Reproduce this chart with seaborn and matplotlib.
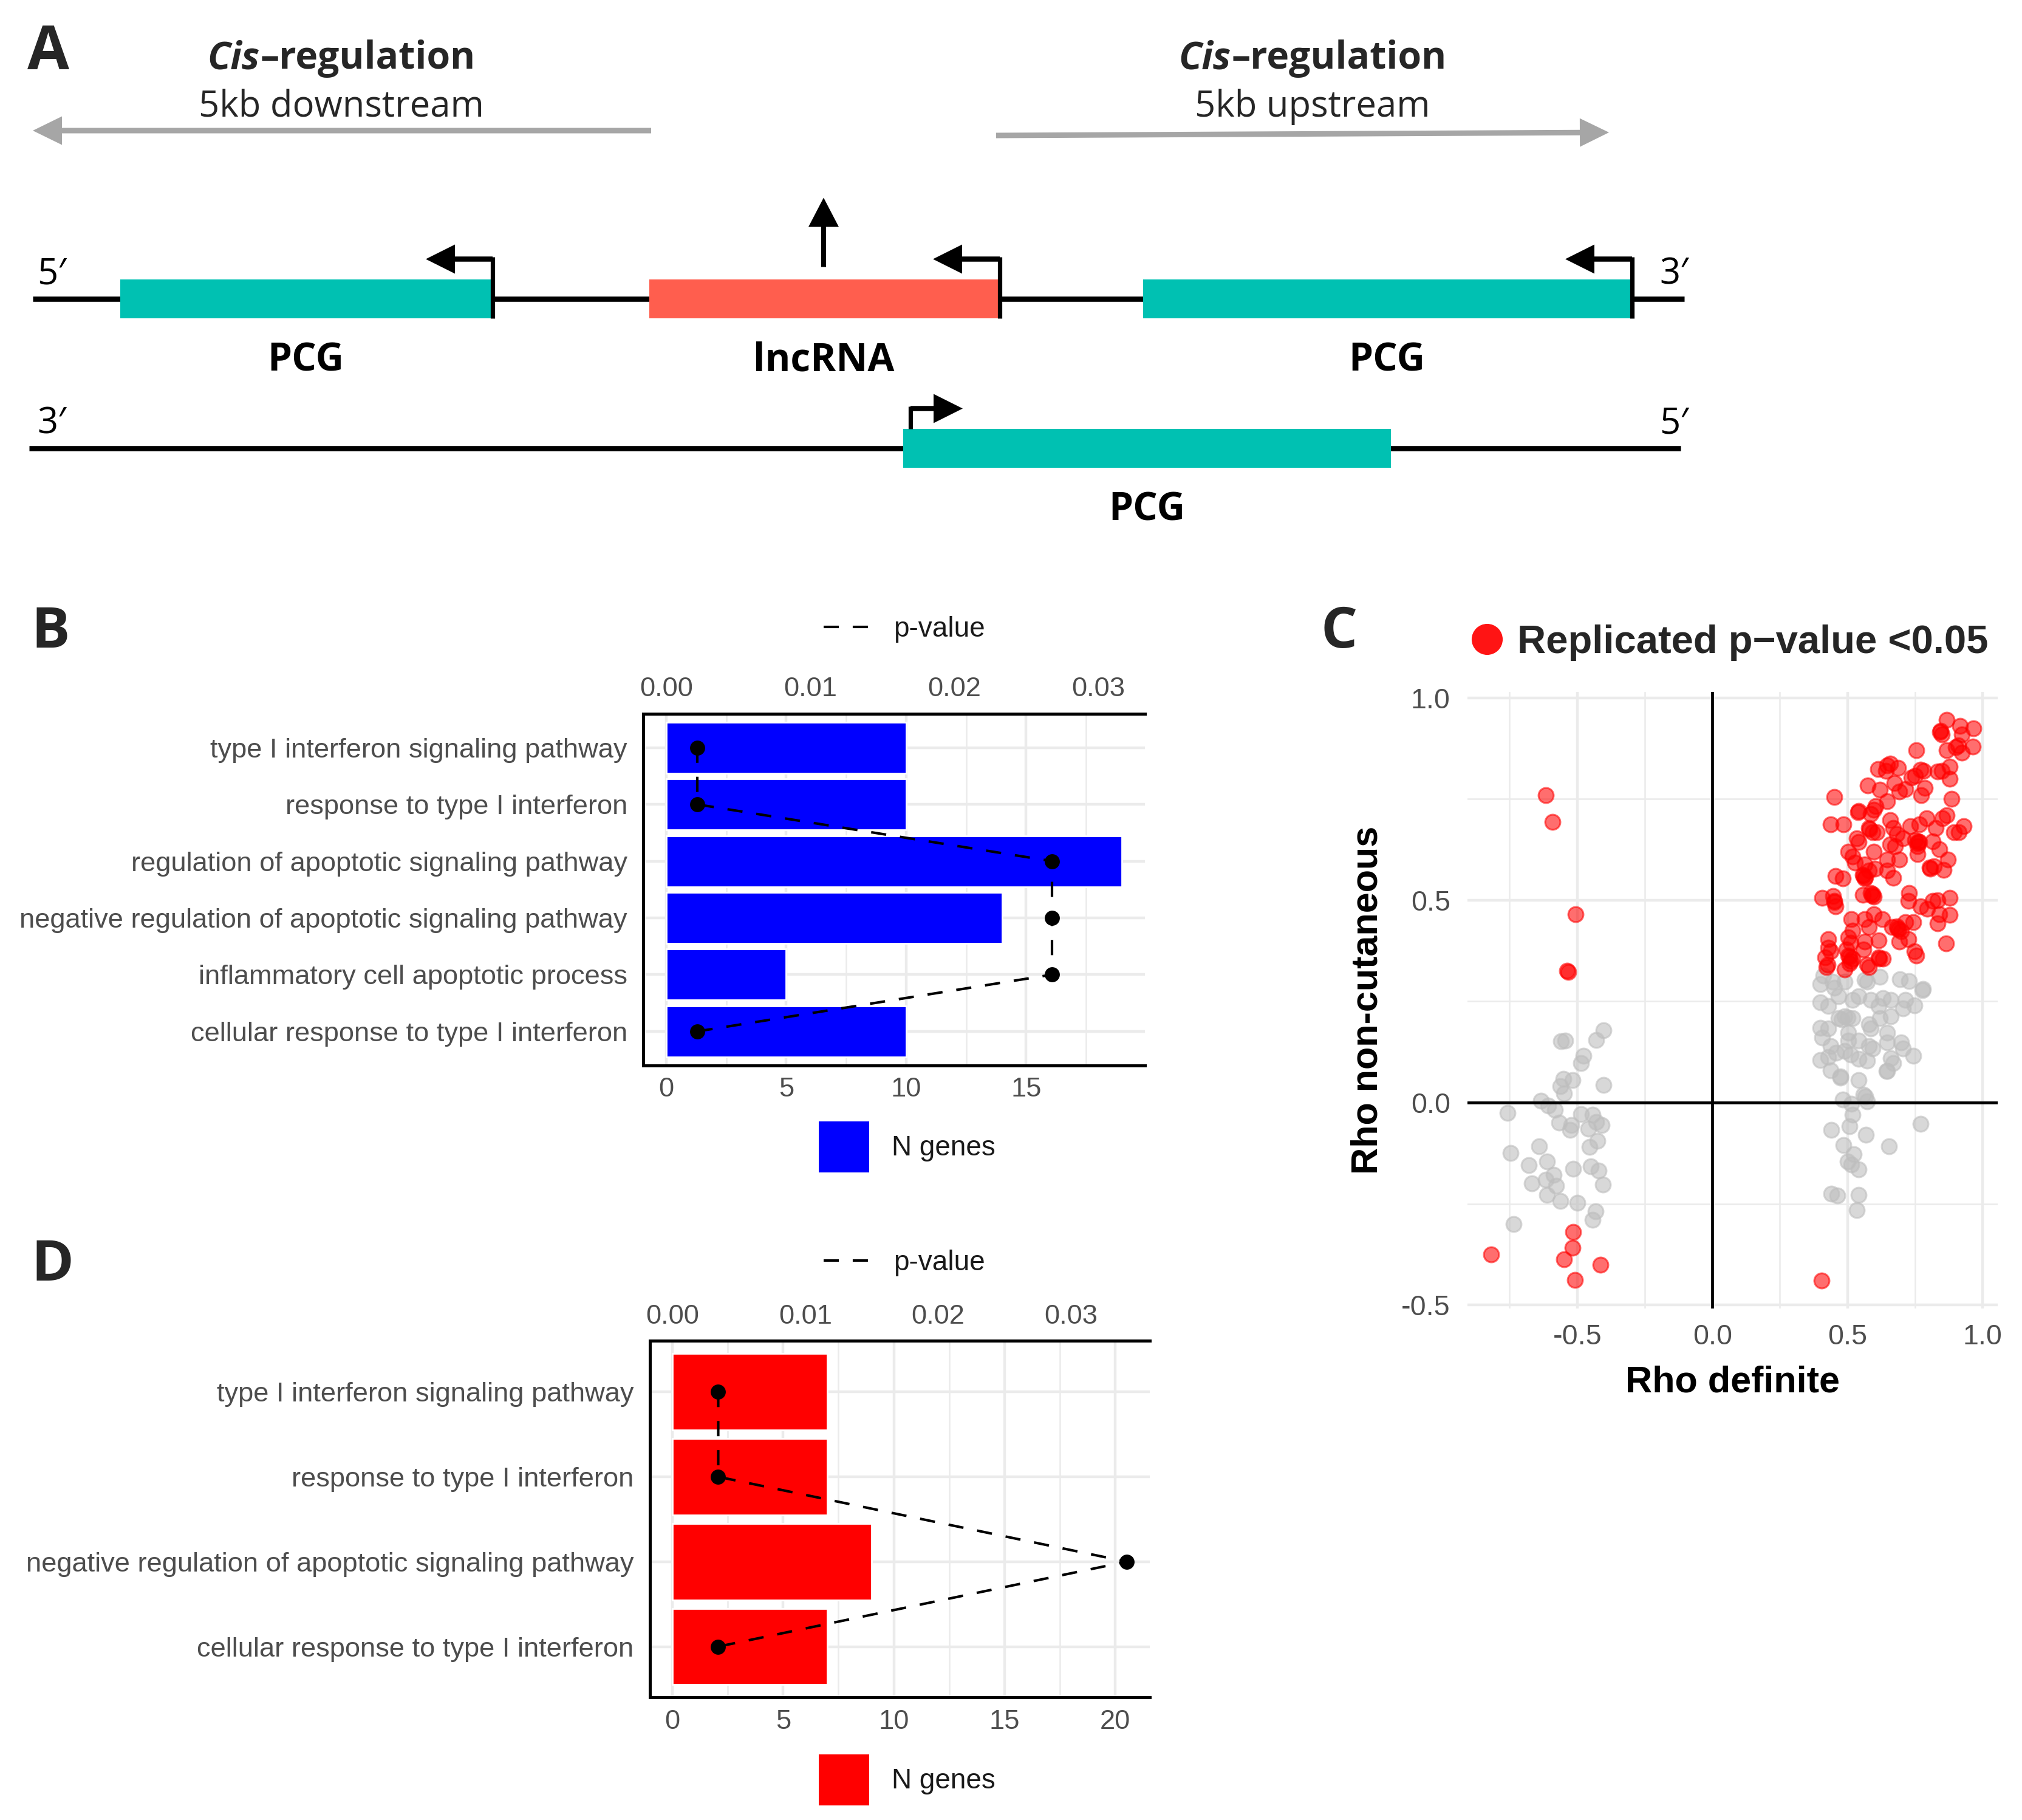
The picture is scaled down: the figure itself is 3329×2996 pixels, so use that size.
import numpy as np
import pandas as pd
import matplotlib
matplotlib.use("Agg")
import matplotlib.pyplot as plt
from matplotlib.lines import Line2D
from matplotlib.patches import Patch, Rectangle
from matplotlib.ticker import MultipleLocator, FormatStrFormatter
import seaborn as sns

# ------------------------------------------------------------------ data
b_terms = ["type I interferon signaling pathway",
           "response to type I interferon",
           "regulation of apoptotic signaling pathway",
           "negative regulation of apoptotic signaling pathway",
           "inflammatory cell apoptotic process",
           "cellular response to type I interferon"]
b_ngenes = [10, 10, 19, 14, 5, 10]
b_pvalue = [0.00216, 0.00216, 0.0268, 0.0268, 0.0268, 0.00216]

d_terms = ["type I interferon signaling pathway",
           "response to type I interferon",
           "negative regulation of apoptotic signaling pathway",
           "cellular response to type I interferon"]
d_ngenes = [7, 7, 9, 7]
d_pvalue = [0.00345, 0.00345, 0.0342, 0.00345]

P_SCALE = 600  # secondary (p-value) axis: p = N / 600

# panel C: replicated (red) points
red_x = [0.868, 0.845, 0.850, 0.916, 0.967, 0.924, 0.755, 0.868, 0.909, 0.924, 0.963, 0.901,
         0.613, 0.646, 0.658, 0.688, 0.643, 0.770, 0.781, 0.834, 0.849, 0.879, 0.879, 0.736,
         0.751, 0.673, 0.691, 0.714, 0.575, 0.620, 0.787, 0.774, 0.886, 0.452, 0.646, 0.605,
         0.542, 0.587, 0.598, 0.437, 0.485, 0.658, 0.579, 0.594, 0.609, 0.534, 0.542, 0.669,
         0.684, 0.706, 0.733, 0.766, 0.793, 0.852, 0.868, 0.826, 0.894, 0.912, 0.931, 0.658,
         0.676, 0.751, 0.766, 0.759, 0.598, 0.504, 0.519, 0.527, 0.646, 0.691, 0.759, 0.815,
         0.841, 0.871, 0.804, 0.819, 0.856, 0.564, 0.579, 0.601, 0.557, 0.564, 0.646, 0.669,
         0.455, 0.482,
         0.407, 0.448, 0.455, 0.452, 0.557, 0.587, 0.598, 0.729, 0.725, 0.770, 0.796, 0.815,
         0.834, 0.879, 0.841, 0.879, 0.834, 0.515, 0.564, 0.598, 0.628, 0.579, 0.519, 0.665,
         0.684, 0.699, 0.714, 0.744, 0.725, 0.691, 0.864, 0.748, 0.755, 0.429, 0.429, 0.437,
         0.418, 0.426, 0.422, 0.504, 0.512, 0.497, 0.504, 0.519, 0.508, 0.564, 0.560, 0.616,
         0.616, 0.631, 0.572, 0.579, 0.489,
         0.843, 0.540, 0.581, 0.760, 0.762, 0.806, 0.560, 0.566, 0.590, 0.594, 0.685, 0.690,
         0.507, 0.512, 0.618, 0.452,
         0.405,
         -0.616, -0.591, -0.506, -0.538, -0.534, -0.515, -0.518, -0.548, -0.818, -0.414, -0.509]
red_y = [0.945, 0.918, 0.910, 0.930, 0.925, 0.910, 0.870, 0.870, 0.883, 0.865, 0.879, 0.878,
         0.824, 0.833, 0.838, 0.827, 0.820, 0.823, 0.820, 0.818, 0.820, 0.830, 0.800, 0.803,
         0.808, 0.790, 0.768, 0.775, 0.783, 0.773, 0.778, 0.760, 0.750, 0.755, 0.745, 0.733,
         0.720, 0.713, 0.723, 0.688, 0.688, 0.698, 0.678, 0.668, 0.668, 0.653, 0.643, 0.678,
         0.663, 0.653, 0.683, 0.688, 0.703, 0.703, 0.710, 0.678, 0.668, 0.668, 0.683, 0.638,
         0.633, 0.648, 0.643, 0.633, 0.620, 0.620, 0.608, 0.593, 0.600, 0.600, 0.613, 0.645,
         0.625, 0.600, 0.580, 0.583, 0.575, 0.588, 0.573, 0.578, 0.563, 0.553, 0.573, 0.555,
         0.560, 0.553,
         0.505, 0.510, 0.485, 0.495, 0.513, 0.518, 0.508, 0.518, 0.498, 0.485, 0.478, 0.498,
         0.500, 0.505, 0.465, 0.463, 0.443, 0.453, 0.453, 0.465, 0.453, 0.433, 0.425, 0.433,
         0.435, 0.423, 0.445, 0.445, 0.403, 0.398, 0.393, 0.373, 0.363, 0.403, 0.383, 0.373,
         0.358, 0.340, 0.335, 0.408, 0.395, 0.378, 0.363, 0.355, 0.343, 0.398, 0.378, 0.400,
         0.358, 0.355, 0.340, 0.335, 0.328,
         0.915, 0.718, 0.676, 0.640, 0.645, 0.578, 0.560, 0.556, 0.512, 0.515, 0.430, 0.428,
         0.360, 0.350, 0.355, 0.498,
         -0.439,
         0.760, 0.693, 0.465, 0.325, 0.322, -0.320, -0.358, -0.387, -0.375, -0.401, -0.438]

# panel C: non-replicated (grey) points
gray_x = [0.411, 0.399, 0.444, 0.489, 0.564, 0.572, 0.620, 0.695, 0.729, 0.778, 0.399, 0.429,
          0.452, 0.467, 0.519, 0.542, 0.587, 0.631, 0.661, 0.706, 0.714, 0.748, 0.616, 0.467,
          0.489, 0.519, 0.579, 0.587, 0.620, 0.661, 0.399, 0.429, 0.407, 0.504, 0.504, 0.542,
          0.646, 0.646, 0.699, 0.706, 0.744, 0.437, 0.579, 0.594, 0.399, 0.429, 0.459, 0.489,
          0.512, 0.542, 0.572, 0.661, 0.669, 0.646, 0.437, 0.474, 0.542,
          0.478, 0.500, 0.780, 0.645, 0.474,
          0.482, 0.515, 0.560, 0.572, 0.566, 0.519, 0.508, 0.440, 0.568, 0.770, 0.485, 0.654,
          0.523, 0.500, 0.515, 0.542, 0.440, 0.463, 0.542, 0.534,
          -0.545, -0.560, -0.402, -0.429, -0.477, -0.485, -0.552, -0.518, -0.563, -0.548,
          -0.402, -0.634, -0.608, -0.582, -0.758, -0.485, -0.444, -0.567, -0.522, -0.526,
          -0.459, -0.429, -0.410, -0.425, -0.455, -0.642, -0.747, -0.679, -0.612, -0.586,
          -0.616, -0.578, -0.668, -0.515, -0.451, -0.421, -0.404, -0.612, -0.563, -0.500,
          -0.432, -0.443, -0.736]
gray_y = [0.313, 0.293, 0.298, 0.298, 0.303, 0.298, 0.310, 0.305, 0.300, 0.278, 0.248, 0.238,
          0.283, 0.263, 0.253, 0.263, 0.253, 0.258, 0.253, 0.233, 0.253, 0.240, 0.238, 0.208,
          0.213, 0.208, 0.193, 0.183, 0.208, 0.213, 0.185, 0.183, 0.160, 0.173, 0.153, 0.153,
          0.173, 0.148, 0.148, 0.133, 0.115, 0.140, 0.140, 0.133, 0.105, 0.113, 0.123, 0.128,
          0.118, 0.108, 0.103, 0.110, 0.098, 0.078, 0.080, 0.065, 0.055,
          0.205, 0.210, 0.280, 0.078, 0.062,
          0.008, -0.003, 0.020, 0.003, 0.015, -0.030, -0.058, -0.068, -0.080, -0.052, -0.105,
          -0.108, -0.128, -0.145, -0.153, -0.165, -0.225, -0.230, -0.228, -0.265,
          0.153, 0.152, 0.178, 0.155, 0.115, 0.098, 0.058, 0.055, 0.040, 0.023,
          0.044, 0.005, -0.008, -0.018, -0.025, -0.028, -0.030, -0.050, -0.055, -0.068,
          -0.065, -0.048, -0.055, -0.095, -0.110, -0.108, -0.125, -0.155, -0.145, -0.178,
          -0.190, -0.205, -0.200, -0.163, -0.158, -0.168, -0.202, -0.228, -0.243, -0.247,
          -0.268, -0.290, -0.300]

# panel A schematic (diagram layout, in image pixels)
gene_names = ["PCG", "lncRNA", "PCG", "PCG"]
gene_start = [198, 1069, 1882, 1487]
gene_end = [808, 1643, 2684, 2290]
gene_row = [0, 0, 0, 1]
gene_kind = ["pcg", "lnc", "pcg", "pcg"]
gene_tss = ["end", "end", "end", "start"]

# ------------------------------------------------------------------ style
sns.set_theme(style="white")
plt.rcParams["font.family"] = ["Liberation Sans", "DejaVu Sans"]
plt.rcParams["axes.unicode_minus"] = False

W, H, DPI = 3329, 2996, 200
TEAL, CORAL = "#00C1B2", "#FF5E4E"
GRID = "#EBEBEB"
TXT = "#4D4D4D"
TICK_FS = 16.3
LEG_FS = 16.5
OPEN = ["Open Sans", "DejaVu Sans"]

fig = plt.figure(figsize=(W / DPI, H / DPI), dpi=DPI)
fig.patch.set_facecolor("white")
renderer = fig.canvas.get_renderer()

# ------------------------------------------------------------------ panel A
axa = fig.add_axes([0, 0, 1, 1], zorder=0)
axa.set_xlim(0, W)
axa.set_ylim(H, 0)
axa.axis("off")

row_y = [491.5, 737.5]
row_ext = [(54, 2773), (48, 2767)]
row_ends = [("5\u2032", "3\u2032"), ("3\u2032", "5\u2032")]
half_h = 32

for r in range(2):
    axa.plot(row_ext[r], [row_y[r], row_y[r]], color="black", lw=3.1,
             solid_capstyle="butt", zorder=1)
    axa.text(85, row_y[r] - 24, row_ends[r][0], ha="center", va="baseline",
             fontsize=21.5, family=OPEN, color="black")
    axa.text(2756, row_y[r] - 24, row_ends[r][1], ha="center", va="baseline",
             fontsize=21.5, family=OPEN, color="black")

for name, x0, x1, r, kind, tss in zip(gene_names, gene_start, gene_end,
                                       gene_row, gene_kind, gene_tss):
    y = row_y[r]
    col = TEAL if kind == "pcg" else CORAL
    axa.add_patch(Rectangle((x0, y - half_h), x1 - x0, 2 * half_h,
                            facecolor=col, edgecolor="none", zorder=2))
    axa.text((x0 + x1) / 2, y + 119, name, ha="center", va="baseline",
             fontsize=23, fontweight="bold", family=OPEN, color="black")
    # bent promoter arrow
    turn = y - half_h - 33
    if tss == "end":
        xs, dx = x1 + 3, -110
    else:
        xs, dx = x0 + 12, 86
    axa.plot([xs, xs], [y + (half_h if r == 0 else -half_h), turn - 4],
             color="black", lw=2.6, solid_capstyle="butt", zorder=3)
    axa.arrow(xs, turn, dx, 0, width=8.5, head_width=48, head_length=48,
              length_includes_head=True, fc="black", ec="none", zorder=3)
    if kind == "lnc":
        cx = (x0 + x1) / 2
        axa.arrow(cx, y - half_h - 20, 0, -114, width=8, head_width=50,
                  head_length=48, length_includes_head=True, fc="black",
                  ec="none", zorder=3)

# grey cis-regulation arrows
axa.arrow(1072, 215, -1018, 0, width=9, head_width=47, head_length=48,
          length_includes_head=True, fc="#A6A6A6", ec="none", zorder=2)
axa.arrow(1640, 223, 1009, -5, width=9, head_width=47, head_length=48,
          length_includes_head=True, fc="#A6A6A6", ec="none", zorder=2)


def cis_title(cx, base):
    t1 = axa.text(cx, base, "Cis", fontstyle="italic", fontweight="bold",
                  ha="left", va="baseline", fontsize=22.5, family=OPEN)
    t2 = axa.text(cx, base, "\u2013regulation", fontweight="bold",
                  ha="left", va="baseline", fontsize=22.5, family=OPEN)
    w1 = t1.get_window_extent(renderer).width
    w2 = t2.get_window_extent(renderer).width
    x0 = cx - (w1 + w2) / 2
    t1.set_x(x0)
    t2.set_x(x0 + w1)


cis_title(562, 113)
cis_title(2161, 113)
axa.text(562, 192, "5kb downstream", ha="center", va="baseline",
         fontsize=21.5, family=OPEN)
axa.text(2161, 192, "5kb upstream", ha="center", va="baseline",
         fontsize=21.5, family=OPEN)

# panel letters
axa.text(45, 114, "A", fontsize=36, fontweight="bold", family=OPEN,
         ha="left", va="baseline")
axa.text(52, 1066, "B", fontsize=34, fontweight="bold", family=OPEN,
         ha="left", va="baseline")
axa.text(2175, 1066, "C", fontsize=34, fontweight="bold", family=OPEN,
         ha="left", va="baseline")
axa.text(52, 2108, "D", fontsize=34, fontweight="bold", family=OPEN,
         ha="left", va="baseline")


# ------------------------------------------------------------------ panels B / D
def bar_panel(rect, terms, ngenes, pvals, color, leg_p, leg_n):
    ax = fig.add_axes(rect, zorder=2)
    df = pd.DataFrame({"term": terms, "n": ngenes})
    sns.barplot(data=df, x="n", y="term", order=terms, color=color,
                saturation=1, width=0.9, errorbar=None, orient="h", ax=ax)
    hi = max(max(ngenes), max(pvals) * P_SCALE)
    pad = 0.05 * hi
    xlo, xhi = -pad, hi + pad
    ax.set_xlim(xlo, xhi)
    n = len(terms)
    ax.xaxis.set_major_locator(MultipleLocator(5))
    ax.xaxis.set_minor_locator(MultipleLocator(2.5))
    ax.grid(True, which="major", axis="both", color=GRID, lw=1.6)
    ax.grid(True, which="minor", axis="x", color=GRID, lw=0.9)
    ax.set_axisbelow(True)
    ax.set_xlabel("")
    ax.set_ylabel("")
    for s in ["left", "top", "bottom"]:
        ax.spines[s].set_visible(True)
        ax.spines[s].set_color("black")
        ax.spines[s].set_linewidth(1.8)
    ax.spines["right"].set_visible(False)
    ax.tick_params(axis="x", which="both", length=0, labelsize=TICK_FS,
                   labelcolor=TXT, pad=7)
    ax.tick_params(axis="y", length=0, labelsize=TICK_FS, labelcolor=TXT,
                   pad=9.5)

    ax2 = ax.twiny()
    ax2.set_xlim(xlo / P_SCALE, xhi / P_SCALE)
    pos = np.arange(n)
    ax2.plot(pvals, pos, color="black", lw=1.5, ls=(0, (6, 5.5)), zorder=3)
    ax2.scatter(pvals, pos, s=80, color="black", zorder=4, linewidths=0)
    ax.set_ylim(n - 1 + 0.6, -0.6)
    ax2.xaxis.set_major_locator(MultipleLocator(0.01))
    ax2.xaxis.set_major_formatter(FormatStrFormatter("%.2f"))
    ax2.tick_params(axis="x", length=0, labelsize=TICK_FS, labelcolor=TXT,
                    pad=7)
    for s in ax2.spines.values():
        s.set_visible(False)
    ax2.grid(False)

    fig.legend(handles=[Line2D([], [], color="black", lw=1.5,
                               ls=(0, (6, 5.5)))],
               labels=["p-value"], loc="center left", bbox_to_anchor=leg_p,
               frameon=False, borderpad=0, borderaxespad=0, handlelength=1.6,
               handletextpad=0.9, fontsize=LEG_FS, labelcolor="#1A1A1A")
    fig.legend(handles=[Patch(facecolor=color, edgecolor="none")],
               labels=["N genes"], loc="center left", bbox_to_anchor=leg_n,
               frameon=False, borderpad=0, borderaxespad=0, handlelength=1.82,
               handleheight=2.42, handletextpad=0.79, fontsize=LEG_FS,
               labelcolor="#1A1A1A")
    return ax


bar_panel([0.3182, 0.4146, 0.2480, 0.1933], b_terms, b_ngenes, b_pvalue,
          "#0000FF", (1356 / W, 1 - 1036.5 / H), (1348 / W, 1 - 1888 / H))
bar_panel([0.3213, 0.0673, 0.2472, 0.1959], d_terms, d_ngenes, d_pvalue,
          "#FF0000", (1356 / W, 1 - 2079 / H), (1348 / W, 1 - 2930 / H))

# ------------------------------------------------------------------ panel C
axc = fig.add_axes([0.7256, 0.2811, 0.2624, 0.3387], zorder=2)
GREY_PT = "#BEBEBE"
sns.scatterplot(x=gray_x, y=gray_y, color=GREY_PT, alpha=0.6, s=80,
                edgecolor=GREY_PT, linewidth=1.1, legend=False, ax=axc,
                zorder=2)
sns.scatterplot(x=red_x, y=red_y, color="#FF0000", alpha=0.57, s=80,
                edgecolor="#FF0000", linewidth=1.1, legend=False, ax=axc,
                zorder=2)
axc.axhline(0, color="black", lw=1.7, zorder=3)
axc.axvline(0, color="black", lw=1.7, zorder=3)
allx = red_x + gray_x
ally = red_y + gray_y
rx = max(allx) - min(allx)
ry = max(ally) - min(ally)
axc.set_xlim(min(allx) - 0.05 * rx, max(allx) + 0.05 * rx)
axc.set_ylim(min(ally) - 0.05 * ry, max(ally) + 0.05 * ry)
for axis in (axc.xaxis, axc.yaxis):
    axis.set_major_locator(MultipleLocator(0.5))
    axis.set_minor_locator(MultipleLocator(0.25))
    axis.set_major_formatter(FormatStrFormatter("%.1f"))
axc.grid(True, which="major", color=GRID, lw=1.6)
axc.grid(True, which="minor", color=GRID, lw=0.9)
axc.set_axisbelow(True)
for s in axc.spines.values():
    s.set_visible(False)
axc.tick_params(axis="both", which="both", length=0, labelsize=16.8,
                labelcolor=TXT)
axc.tick_params(axis="x", pad=9)
axc.tick_params(axis="y", pad=10)
axc.set_xlabel("Rho definite", fontsize=22, fontweight="bold", color="black")
axc.set_ylabel("Rho non-cutaneous", fontsize=22, fontweight="bold",
               color="black")
axc.xaxis.label.set_va("center")
axc.yaxis.label.set_va("center")
axc.xaxis.set_label_coords(0.5, -0.1205)
axc.yaxis.set_label_coords(-0.187, 0.5)

fig.legend(handles=[Line2D([], [], marker="o", ls="", color="#FF0000",
                           alpha=0.92, markersize=18.4, markeredgewidth=0)],
           labels=["Replicated p\u2212value <0.05"], loc="center left",
           bbox_to_anchor=(2422 / W, 1 - 1058 / H), frameon=False,
           borderpad=0, borderaxespad=0, handlelength=0.8,
           handletextpad=0.36,
           prop=dict(family=["Liberation Sans", "DejaVu Sans"],
                     weight="bold", size=23.5))

fig.savefig("out.png", dpi=DPI, facecolor="white")
